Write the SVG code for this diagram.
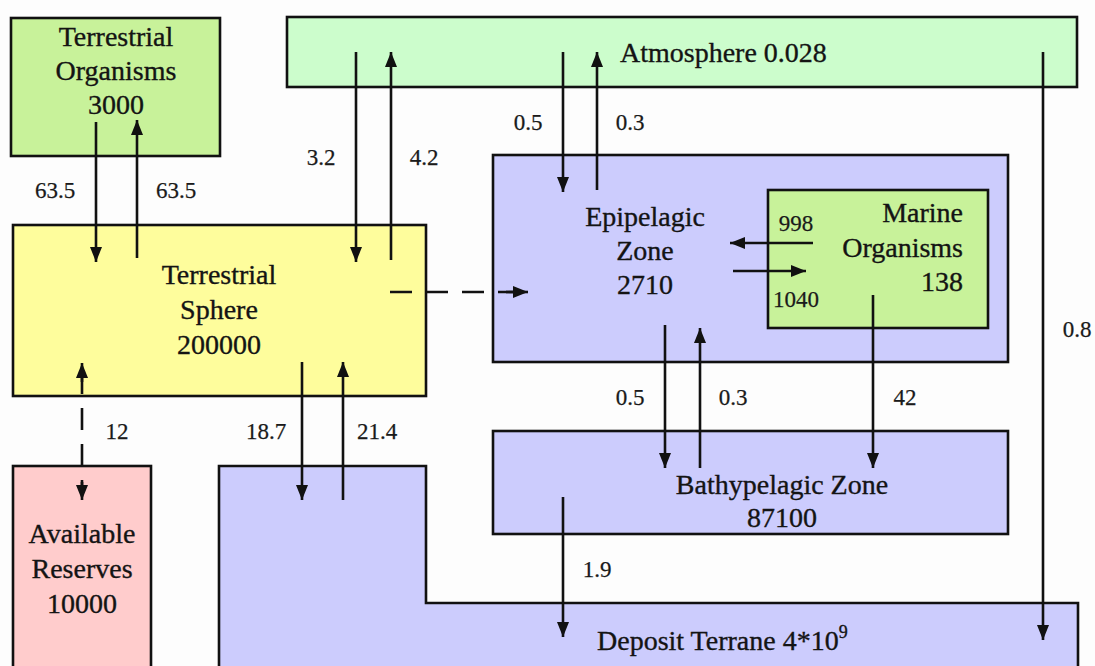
<svg xmlns="http://www.w3.org/2000/svg" width="1095" height="666" viewBox="0 0 1095 666">
  <style>
    .box { stroke: #111; stroke-width: 2.6; }
    .green { fill: #c8f29a; }
    .mint { fill: #ccfdcc; }
    .yellow { fill: #fefd9c; }
    .pink { fill: #ffcccc; }
    .blue { fill: #ccccfd; }
    .lbl { font-family: "Liberation Serif", "Times New Roman", serif; font-size: 28px; fill: #141414; stroke: #141414; stroke-width: 0.35; }
    .num { font-family: "Liberation Serif", "Times New Roman", serif; font-size: 23px; fill: #1a1a1a; stroke: #1a1a1a; stroke-width: 0.25; }
    .flow { stroke: #111; stroke-width: 2.6; fill: none; marker-end: url(#head); }
    .dash { stroke: #111; stroke-width: 2.6; fill: none; stroke-dasharray: 22 14; }
  </style>
  <defs>
    <marker id="head" viewBox="0 0 15 12" refX="15" refY="6" markerWidth="15" markerHeight="12" markerUnits="userSpaceOnUse" orient="auto">
      <path d="M0,0 L15,6 L0,12 Z" fill="#111"/>
    </marker>
  </defs>

  <rect width="1095" height="666" fill="#fdfdfd"/>

  <g id="terrestrial-organisms">
    <rect class="box green" x="11" y="18" width="209" height="138"/>
    <text class="lbl" text-anchor="middle" x="116" y="46">Terrestrial<tspan x="116" dy="34">Organisms</tspan><tspan x="116" dy="34">3000</tspan></text>
  </g>

  <g id="atmosphere">
    <rect class="box mint" x="287" y="17" width="790" height="70"/>
    <text class="lbl" x="620" y="62">Atmosphere 0.028</text>
  </g>

  <g id="terrestrial-sphere">
    <rect class="box yellow" x="13" y="225" width="413" height="171"/>
    <text class="lbl" text-anchor="middle" x="219" y="284">Terrestrial<tspan x="219" dy="35">Sphere</tspan><tspan x="219" dy="35">200000</tspan></text>
  </g>

  <g id="available-reserves">
    <rect class="box pink" x="13" y="466" width="138" height="210"/>
    <text class="lbl" text-anchor="middle" x="82" y="543">Available<tspan x="82" dy="35">Reserves</tspan><tspan x="82" dy="35">10000</tspan></text>
  </g>

  <g id="deposit-terrane">
    <path class="box blue" d="M219,466 H426 V603 H1078 V680 H219 Z"/>
    <text class="lbl" x="597" y="650">Deposit Terrane 4*10<tspan font-size="18" dy="-12">9</tspan></text>
  </g>

  <g id="epipelagic-zone">
    <rect class="box blue" x="493" y="155" width="515" height="207"/>
    <text class="lbl" text-anchor="middle" x="645" y="226">Epipelagic<tspan x="645" dy="34">Zone</tspan><tspan x="645" dy="34">2710</tspan></text>
  </g>

  <g id="marine-organisms">
    <rect class="box green" x="768" y="190" width="220" height="138"/>
    <text class="lbl" text-anchor="end" x="963" y="222">Marine<tspan x="963" dy="35">Organisms</tspan><tspan x="963" dy="34">138</tspan></text>
  </g>

  <g id="bathypelagic-zone">
    <rect class="box blue" x="493" y="431" width="515" height="103"/>
    <text class="lbl" text-anchor="middle" x="782" y="494">Bathypelagic Zone<tspan x="782" dy="33">87100</tspan></text>
  </g>

  <g id="connectors">
    <!-- terrestrial organisms <-> terrestrial sphere -->
    <line class="flow" x1="96" y1="122" x2="96" y2="262"/>
    <line class="flow" x1="137" y1="258" x2="137" y2="120"/>
    <!-- atmosphere <-> terrestrial sphere -->
    <line class="flow" x1="356" y1="52" x2="356" y2="262"/>
    <line class="flow" x1="391" y1="260" x2="391" y2="52"/>
    <!-- atmosphere <-> epipelagic zone -->
    <line class="flow" x1="563" y1="52" x2="563" y2="192"/>
    <line class="flow" x1="597" y1="190" x2="597" y2="52"/>
    <!-- atmosphere -> deposit terrane -->
    <line class="flow" x1="1043" y1="52" x2="1043" y2="640"/>
    <!-- terrestrial sphere -> epipelagic zone (dashed) -->
    <line class="dash" x1="390" y1="292" x2="516" y2="292"/>
    <line class="flow" x1="506" y1="292" x2="528" y2="292"/>
    <!-- available reserves <-> terrestrial sphere (dashed, both ways) -->
    <line class="dash" x1="82" y1="372" x2="82" y2="492" stroke-dasharray="12 12 24 10 24 10 24 12"/>
    <line class="flow" x1="82" y1="382" x2="82" y2="363"/>
    <line class="flow" x1="82" y1="482" x2="82" y2="500"/>
    <!-- terrestrial sphere <-> deposit terrane -->
    <line class="flow" x1="302" y1="362" x2="302" y2="500"/>
    <line class="flow" x1="343" y1="500" x2="343" y2="362"/>
    <!-- epipelagic zone <-> marine organisms -->
    <line class="flow" x1="813" y1="243" x2="730" y2="243"/>
    <line class="flow" x1="733" y1="271" x2="806" y2="271"/>
    <!-- epipelagic zone <-> bathypelagic zone -->
    <line class="flow" x1="665" y1="325" x2="665" y2="468"/>
    <line class="flow" x1="700" y1="468" x2="700" y2="328"/>
    <!-- marine organisms -> bathypelagic zone -->
    <line class="flow" x1="873" y1="295" x2="873" y2="468"/>
    <!-- bathypelagic zone -> deposit terrane -->
    <line class="flow" x1="563" y1="497" x2="563" y2="637"/>
  </g>

  <g id="flow-values">
    <text class="num" text-anchor="middle" x="55" y="198">63.5</text>
    <text class="num" text-anchor="middle" x="176" y="198">63.5</text>
    <text class="num" text-anchor="middle" x="321" y="165">3.2</text>
    <text class="num" text-anchor="middle" x="424" y="165">4.2</text>
    <text class="num" text-anchor="middle" x="528" y="130">0.5</text>
    <text class="num" text-anchor="middle" x="630" y="130">0.3</text>
    <text class="num" text-anchor="middle" x="1077" y="337">0.8</text>
    <text class="num" text-anchor="middle" x="117" y="439">12</text>
    <text class="num" text-anchor="middle" x="266" y="439">18.7</text>
    <text class="num" text-anchor="middle" x="377" y="439">21.4</text>
    <text class="num" text-anchor="middle" x="630" y="405">0.5</text>
    <text class="num" text-anchor="middle" x="733" y="405">0.3</text>
    <text class="num" text-anchor="middle" x="905" y="405">42</text>
    <text class="num" text-anchor="middle" x="597" y="577">1.9</text>
    <text class="num" text-anchor="middle" x="796" y="231">998</text>
    <text class="num" text-anchor="middle" x="796" y="307">1040</text>
  </g>
</svg>
